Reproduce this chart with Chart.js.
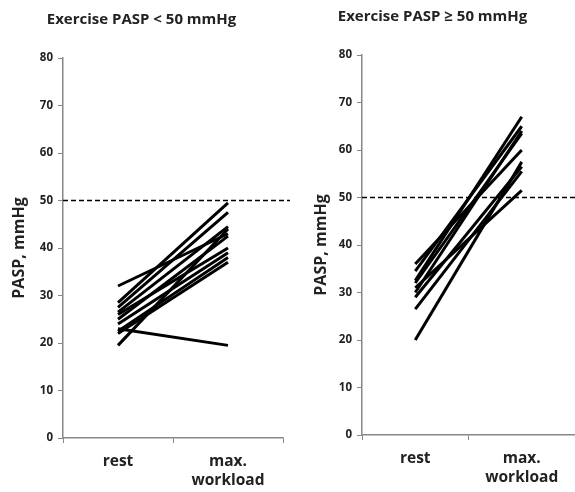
<!DOCTYPE html>
<html>
<head>
<meta charset="utf-8">
<script src="https://cdn.jsdelivr.net/npm/chart.js@4/dist/chart.umd.min.js"></script>
<style>
  body { margin: 0; background: #fff; }
  .panel { position: absolute; top: 0; height: 492px; }
</style>
</head>
<body>
<div class="panel" style="left:0;width:290px"><canvas id="left-chart"></canvas></div>
<div class="panel" style="left:290px;width:285px"><canvas id="right-chart"></canvas></div>
<script>
"use strict";

// values, one entry per patient
const categories = ["rest", ["max.", "workload"]];
const lowRest = [32, 28.5, 27.5, 26.5, 26, 25, 24, 23, 22.5, 22, 19.5];
const lowMax = [43, 49.5, 47.5, 44.5, 40, 42.5, 39, 19.5, 38, 37, 44];
const highRest = [36, 34.5, 32.5, 32, 31, 30, 29, 26.5, 20];
const highMax = [60, 65, 67, 63.5, 51.5, 64, 56.5, 55.5, 57.5];
const threshold = 50;

const fontFamily = "'Open Sans', sans-serif";

// dashed reference line across the whole plot
const thresholdLine = {
  id: "thresholdLine",
  afterDatasetsDraw(chart) {
    const y = chart.scales.y.getPixelForValue(threshold);
    const area = chart.chartArea;
    const ctx = chart.ctx;
    ctx.save();
    ctx.strokeStyle = "#000";
    ctx.lineWidth = 1.6;
    ctx.setLineDash([5, 3]);
    ctx.beginPath();
    ctx.moveTo(area.left, y);
    ctx.lineTo(area.right + 10, y);
    ctx.stroke();
    ctx.restore();
  },
};

function makeDatasets(rest, max) {
  return rest.map((r, i) => ({
    data: [r, max[i]],
    borderColor: "#000",
    borderWidth: 3,
    pointRadius: 0,
    tension: 0,
  }));
}

function renderChart(canvasId, titleText, rest, max, opts) {
  const ctx = document.getElementById(canvasId).getContext("2d");
  return new Chart(ctx, {
    type: "line",
    data: { labels: categories, datasets: makeDatasets(rest, max) },
    plugins: [thresholdLine],
    options: {
      responsive: true,
      maintainAspectRatio: false,
      animation: false,
      layout: { padding: { left: 0, right: opts.rightPad, top: 0, bottom: 0 } },
      plugins: {
        legend: { display: false },
        tooltip: { enabled: false },
        title: {
          display: true,
          text: titleText,
          color: "#222",
          font: { family: fontFamily, size: 15, weight: "bold" },
          padding: { top: opts.titleTop, bottom: opts.titleBottom },
        },
      },
      scales: {
        x: {
          offset: true,
          grid: { offset: true, drawOnChartArea: false, tickLength: 5, color: "#888" },
          border: { color: "#888", width: 1.5 },
          ticks: {
            color: "#222",
            padding: 9,
            maxRotation: 0,
            font: { family: fontFamily, size: 15.5, weight: "bold", lineHeight: 1.25 },
          },
          afterFit(scale) { scale.height = opts.xHeight; },
        },
        y: {
          min: 0,
          max: 80,
          ticks: {
            stepSize: 10,
            color: "#222",
            padding: 5,
            font: { family: fontFamily, size: 11.5, weight: "bold" },
          },
          grid: { drawOnChartArea: false, tickLength: 5, color: "#888" },
          border: { color: "#888", width: 1.5 },
          title: {
            display: true,
            text: "PASP, mmHg",
            color: "#222",
            font: { family: fontFamily, size: 16, weight: "bold" },
            padding: { top: opts.yTitlePad, bottom: 0 },
          },
          afterFit(scale) { scale.width = opts.yWidth; },
        },
      },
    },
  });
}

const lowChart = renderChart("left-chart", "Exercise PASP < 50 mmHg", lowRest, lowMax, {
  rightPad: 7, titleTop: 11, titleBottom: 29, xHeight: 54, yWidth: 63, yTitlePad: 10,
});
const highChart = renderChart("right-chart", "Exercise PASP \u2265 50 mmHg", highRest, highMax, {
  rightPad: 0, titleTop: 8, titleBottom: 29, xHeight: 57, yWidth: 72, yTitlePad: 22,
});
</script>
</body>
</html>
